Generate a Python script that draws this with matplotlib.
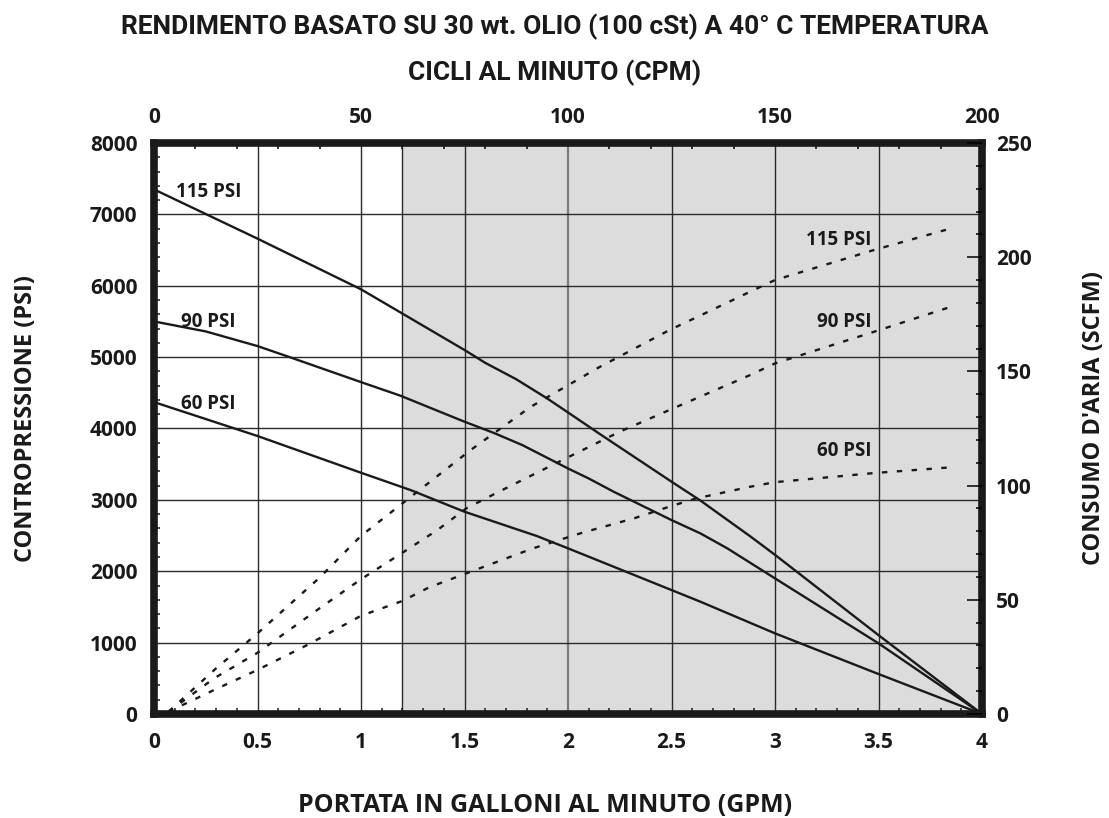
import numpy as np
import matplotlib
matplotlib.use("Agg")
import matplotlib.pyplot as plt
from matplotlib.ticker import MultipleLocator

# ---- data ----
# back pressure (PSI) vs flow (GPM), solid curves
gpm_115 = [0, 0.5, 1.0, 1.2, 1.5, 1.6, 1.75, 1.9, 2.0, 2.15, 2.5, 2.64, 2.88, 3.0, 3.5, 4.0]
psi_115 = [7350, 6660, 5950, 5610, 5100, 4920, 4690, 4420, 4225, 3930, 3255, 2990, 2490, 2230, 1105, 0]
gpm_90 = [0, 0.25, 0.5, 0.66, 1.0, 1.19, 1.5, 1.64, 1.78, 2.0, 2.1, 2.22, 2.5, 2.64, 2.77, 3.0, 3.5, 4.0]
psi_90 = [5500, 5360, 5155, 4995, 4650, 4460, 4095, 3940, 3767, 3440, 3300, 3115, 2717, 2530, 2320, 1900, 990, 0]
gpm_60 = [0, 0.5, 1.0, 1.24, 1.5, 1.85, 2.0, 2.64, 3.0, 3.5, 4.0]
psi_60 = [4370, 3895, 3380, 3137, 2834, 2493, 2321, 1573, 1130, 560, 0]

# air consumption (SCFM) vs flow (GPM), dashed curves
air_gpm_115 = [0.07, 0.3, 0.5, 0.8, 1.0, 1.2, 1.53, 1.82, 2.15, 2.49, 2.64, 2.88, 3.0, 3.48, 3.85]
scfm_115 = [1, 20, 35.3, 59.7, 78, 92.2, 115.6, 134.5, 151.8, 168.1, 174.5, 184.9, 190, 203.2, 212.6]
air_gpm_90 = [0.07, 0.29, 0.5, 0.8, 1.0, 1.2, 1.37, 1.51, 1.67, 1.98, 2.25, 2.49, 2.88, 3.0, 3.48, 3.85]
scfm_90 = [1, 15.6, 26.8, 46.3, 59.0, 70.6, 80.6, 90.1, 97.5, 111.5, 123.6, 133.1, 148.4, 153.5, 167.4, 178.3]
air_gpm_60 = [0.07, 0.29, 0.5, 0.74, 1.0, 1.2, 1.33, 1.83, 2.07, 2.32, 2.49, 2.62, 2.88, 3.0, 3.48, 3.85]
scfm_60 = [1, 10.5, 19.3, 30.2, 43, 49.5, 55.5, 72.5, 79.4, 85.7, 90.8, 94.4, 99.5, 101.5, 105.5, 108]

x_ticks = [0, 0.5, 1, 1.5, 2, 2.5, 3, 3.5, 4]
x_labels = ["0", "0.5", "1", "1.5", "2", "2.5", "3", "3.5", "4"]
cpm_ticks = [0, 50, 100, 150, 200]
psi_ticks = list(range(0, 8001, 1000))
scfm_ticks = [0, 50, 100, 150, 200, 250]
shade_from = 1.2

FONT = "Open Sans"
NARROW = "Roboto"
TICKFS = 15
INK = "#1a1a1a"

fig = plt.figure(figsize=(11.09, 8.18), dpi=100)
ax = fig.add_axes([154 / 1109, 104 / 818, 828 / 1109, 571 / 818])
ax.set_xlim(0, 4); ax.set_ylim(0, 8000)

ax.axvspan(shade_from, 4, color="#dcdcdc", zorder=0, lw=0)
for v in [0.5, 1, 1.2, 1.5, 2.5, 3, 3.5]:
    ax.axvline(v, color="#2b2b2b", lw=1.0, zorder=1)
ax.axvline(2, color="#7a7a7a", lw=1.6, zorder=1)
for h in range(1000, 8000, 1000):
    ax.axhline(h, color="#2b2b2b", lw=1.0, zorder=1)

for g, p in [(gpm_115, psi_115), (gpm_90, psi_90), (gpm_60, psi_60)]:
    ax.plot(g, p, color=INK, lw=1.7, zorder=3, solid_joinstyle="round")

ax.set_xticks(x_ticks, x_labels)
ax.set_yticks(psi_ticks)
ax.xaxis.set_minor_locator(MultipleLocator(0.1))
ax.yaxis.set_minor_locator(MultipleLocator(200))
ax.tick_params(which="major", length=0, labelsize=TICKFS, labelcolor=INK)
ax.tick_params(axis="x", which="major", pad=13)
ax.tick_params(axis="y", which="major", pad=12)
ax.tick_params(which="minor", direction="in", length=4, width=1.1, color=INK)
for lab in ax.get_xticklabels() + ax.get_yticklabels():
    lab.set_fontfamily(FONT); lab.set_fontweight("bold")
for s in ax.spines.values():
    s.set_linewidth(5.5); s.set_color(INK); s.set_zorder(6); s.set_joinstyle("round")

# right axis: air consumption
ax2 = ax.twinx()
ax2.set_ylim(0, 250)
for g, s in [(air_gpm_115, scfm_115), (air_gpm_90, scfm_90), (air_gpm_60, scfm_60)]:
    ax2.plot(g, s, color=INK, lw=1.7, dashes=(2.3, 4.0), zorder=3)
ax2.set_yticks(scfm_ticks)
ax2.yaxis.set_minor_locator(MultipleLocator(10))
ax2.tick_params(which="major", direction="in", length=11, width=1.1, pad=10,
                labelsize=TICKFS, labelcolor=INK)
ax2.tick_params(which="minor", direction="in", length=4, width=1.1)
for lab in ax2.get_yticklabels():
    lab.set_fontfamily(FONT); lab.set_fontweight("bold")
for s in ax2.spines.values():
    s.set_visible(False)

# top axis: cycles per minute
top = ax.secondary_xaxis("top", functions=(lambda x: x * 50, lambda c: c / 50))
top.set_xticks(cpm_ticks)
top.xaxis.set_minor_locator(MultipleLocator(10))
top.tick_params(which="major", length=0, pad=11, labelsize=TICKFS, labelcolor=INK)
top.tick_params(which="minor", direction="in", length=4, width=1.1)
top.spines["top"].set_visible(False)
for lab in top.get_xticklabels():
    lab.set_fontfamily(FONT); lab.set_fontweight("bold")

lbl = dict(fontsize=13.5, fontweight="bold", family=FONT, color=INK, zorder=5)
ax.text(0.105, 7310, "115 PSI", ha="left", va="center", **lbl)
ax.text(0.13, 5494, "90 PSI", ha="left", va="center", **lbl)
ax.text(0.13, 4342, "60 PSI", ha="left", va="center", **lbl)
ax.text(3.465, 6639, "115 PSI", ha="right", va="center", **lbl)
ax.text(3.465, 5494, "90 PSI", ha="right", va="center", **lbl)
ax.text(3.465, 3690, "60 PSI", ha="right", va="center", **lbl)

fig.text(0.5, 1 - 27 / 818, "RENDIMENTO BASATO SU 30 wt. OLIO (100 cSt) A 40° C TEMPERATURA",
         ha="center", va="center", fontsize=19, fontweight="bold", family=NARROW, color=INK)
fig.text(0.5, 1 - 73 / 818, "CICLI AL MINUTO (CPM)", ha="center", va="center",
         fontsize=19, fontweight="bold", family=NARROW, color=INK)
fig.text(545 / 1109, 1 - 805 / 818, "PORTATA IN GALLONI AL MINUTO (GPM)", ha="center", va="center",
         fontsize=18, fontweight="bold", family=FONT, color=INK)
fig.text(26 / 1109, 1 - 418 / 818, "CONTROPRESSIONE (PSI)", ha="center", va="center", rotation=90,
         fontsize=17, fontweight="bold", family=FONT, color=INK)
fig.text(1094 / 1109, 1 - 418 / 818, "CONSUMO D'ARIA (SCFM)", ha="center", va="center", rotation=90,
         fontsize=17, fontweight="bold", family=FONT, color=INK)

fig.savefig("out.png", dpi=100)
